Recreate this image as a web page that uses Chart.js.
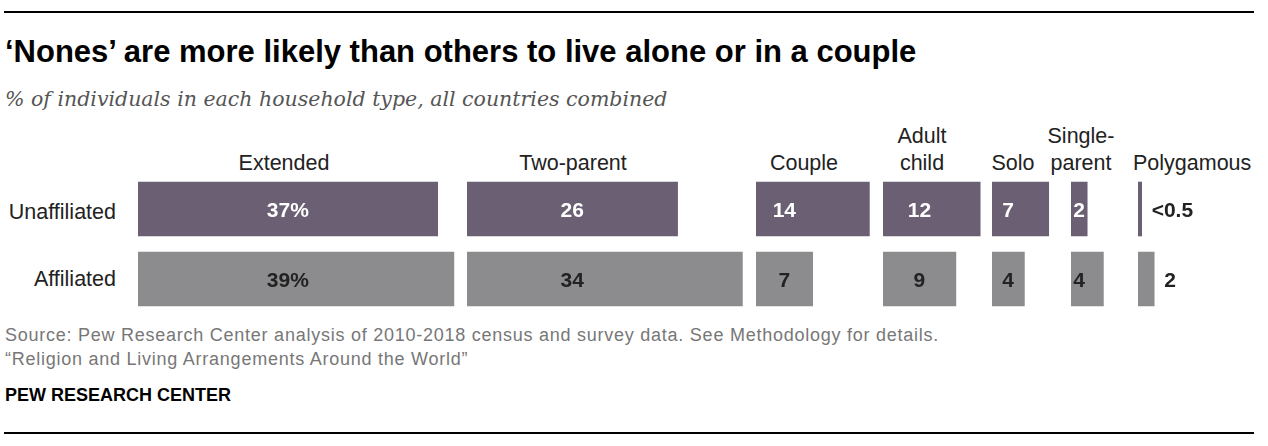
<!DOCTYPE html>
<html>
<head>
<meta charset="utf-8">
<script src="https://cdn.jsdelivr.net/npm/chart.js@4.4.1/dist/chart.umd.min.js"></script>
<style>
  body { margin: 0; width: 1268px; height: 446px; background: #fff; position: relative; overflow: hidden;
         font-family: "Liberation Sans", Arial, sans-serif; color: #222; }
  .abs { position: absolute; white-space: nowrap; }
  .rule { position: absolute; left: 4px; width: 1250px; height: 2px; background: #000; }
  #title { left: 5px; top: 33.5px; font-size: 31px; font-weight: bold; color: #000; letter-spacing: 0; }
  #subtitle { left: 5px; top: 87px; font-family: "DejaVu Serif", Georgia, serif; font-style: italic; font-size: 20.5px; color: #555; }
  .head { font-size: 21.5px; color: #222; text-align: center; line-height: 27px; transform: translateX(-50%); }
  .row { font-size: 21.5px; color: #222; text-align: right; width: 116px; left: 0; }
  .note { left: 5px; font-size: 18px; color: #777; letter-spacing: 0.75px; }
  #brand { left: 5px; top: 384.5px; font-size: 18px; font-weight: bold; color: #000; }
  .col { position: absolute; top: 174px; height: 140px; }
</style>
</head>
<body>
<div class="rule" style="top:11px"></div>
<div id="title" class="abs">‘Nones’ are more likely than others to live alone or in a couple</div>
<div id="subtitle" class="abs">% of individuals in each household type, all countries combined</div>

<div class="abs row" style="top:200px">Unaffiliated</div>
<div class="abs row" style="top:267px">Affiliated</div>

<div id="heads"></div>
<div id="cols"></div>

<div class="abs note" style="top:324.5px">Source: Pew Research Center analysis of 2010-2018 census and survey data. See Methodology for details.</div>
<div class="abs note" style="top:348.5px">“Religion and Living Arrangements Around the World”</div>
<div id="brand" class="abs">PEW RESEARCH CENTER</div>
<div class="rule" style="top:432px"></div>

<script>
const groups = ['Unaffiliated', 'Affiliated'];
const householdTypes = ['Extended', 'Two-parent', 'Couple', 'Adult\nchild', 'Solo', 'Single-\nparent', 'Polygamous'];
const unaffiliated = [37, 26, 14, 12, 7, 2, 0.45];
const affiliated = [39, 34, 7, 9, 4, 4, 2];
const unaffiliatedLabels = ['37%', '26', '14', '12', '7', '2', '<0.5'];
const affiliatedLabels = ['39%', '34', '7', '9', '4', '4', '2'];

// layout
const pxPerUnit = 8.1;
const colLeft = [137.5, 467, 756, 883, 992, 1071, 1138];
const colWidth = [325, 285, 125, 108, 78, 66, 130];
const headX = [284, 573, 804, 922, 1013, 1081, 1133];
const PURPLE = '#6b5f73';
const GRAY = '#8c8c8f';

const headsEl = document.getElementById('heads');
householdTypes.forEach((name, i) => {
  const lines = name.split('\n');
  const d = document.createElement('div');
  d.className = 'abs head';
  d.innerHTML = lines.join('<br>');
  d.style.left = headX[i] + 'px';
  d.style.top = (176.5 - 27 * lines.length) + 'px';
  if (i === householdTypes.length - 1) { d.style.transform = 'none'; d.style.textAlign = 'left'; }
  headsEl.appendChild(d);
});

const valueLabels = {
  id: 'valueLabels',
  afterDatasetsDraw(chart) {
    const idx = chart.options.plugins.valueLabels.col;
    const last = idx === householdTypes.length - 1;
    const bars = chart.getDatasetMeta(0).data;
    const texts = [unaffiliatedLabels[idx], affiliatedLabels[idx]];
    const colors = ['#fff', '#222'];
    // labels sit centred on the shorter bar of the pair
    const short = bars[0].x - bars[0].base <= bars[1].x - bars[1].base ? bars[0] : bars[1];
    const cx = (short.x + short.base) / 2;
    const ctx = chart.ctx;
    ctx.save();
    ctx.font = 'bold 21px "Liberation Sans", Arial, sans-serif';
    ctx.textBaseline = 'middle';
    bars.forEach((b, i) => {
      if (last) {
        ctx.fillStyle = '#222';
        ctx.textAlign = 'left';
        ctx.fillText(texts[i], b.x + 10, b.y + 2);
      } else {
        ctx.fillStyle = colors[i];
        ctx.textAlign = 'center';
        ctx.fillText(texts[i], cx, b.y + 2);
      }
    });
    ctx.restore();
  }
};

const colsEl = document.getElementById('cols');
householdTypes.forEach((name, i) => {
  const wrap = document.createElement('div');
  wrap.className = 'col';
  wrap.style.left = colLeft[i] + 'px';
  wrap.style.width = colWidth[i] + 'px';
  const canvas = document.createElement('canvas');
  wrap.appendChild(canvas);
  colsEl.appendChild(wrap);

  new Chart(canvas.getContext('2d'), {
    type: 'bar',
    data: {
      labels: groups,
      datasets: [{
        data: [unaffiliated[i], affiliated[i]],
        backgroundColor: [PURPLE, GRAY],
        borderWidth: 0,
        barThickness: 54
      }]
    },
    options: {
      indexAxis: 'y',
      responsive: true,
      maintainAspectRatio: false,
      animation: false,
      layout: { padding: 0 },
      scales: {
        x: { display: false, min: 0, max: colWidth[i] / pxPerUnit },
        y: { display: false }
      },
      plugins: {
        legend: { display: false },
        tooltip: { enabled: false },
        valueLabels: { col: i }
      }
    },
    plugins: [valueLabels]
  });
});
</script>
</body>
</html>
